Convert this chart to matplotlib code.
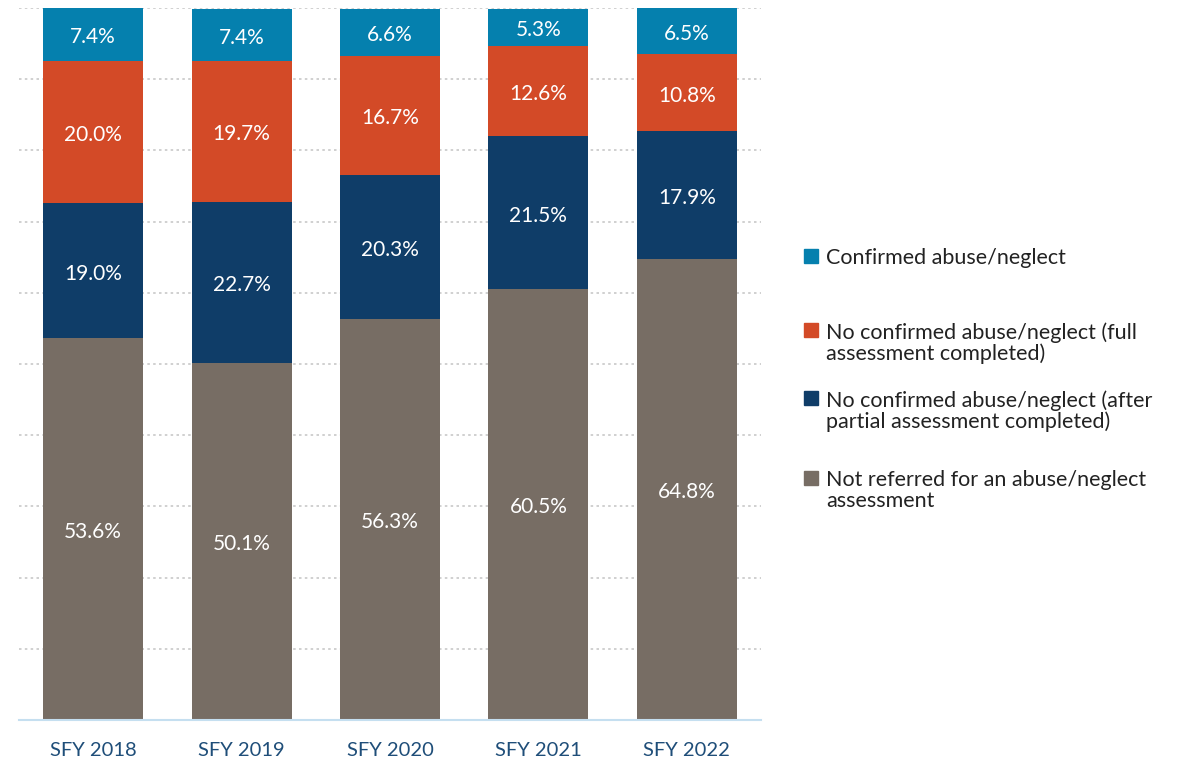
import matplotlib.pyplot as plt
from matplotlib.patches import Rectangle
import numpy as np

plt.rcParams['font.family'] = ['Lato', 'DejaVu Sans']

years = ['SFY 2018', 'SFY 2019', 'SFY 2020', 'SFY 2021', 'SFY 2022']
not_referred = [53.6, 50.1, 56.3, 60.5, 64.8]
partial = [19.0, 22.7, 20.3, 21.5, 17.9]
full = [20.0, 19.7, 16.7, 12.6, 10.8]
confirmed = [7.4, 7.4, 6.6, 5.3, 6.5]

labels = ['Not referred for an abuse/neglect\nassessment',
          'No confirmed abuse/neglect (after\npartial assessment completed)',
          'No confirmed abuse/neglect (full\nassessment completed)',
          'Confirmed abuse/neglect']
colors = ['#776D64', '#0F3D68', '#D34A27', '#0580AE']

fig = plt.figure(figsize=(11.91, 7.63), dpi=100)
ax = fig.add_axes([19/1191, 1 - 720/763, 742/1191, 712/763])

x = np.arange(len(years))
bottom = np.zeros(len(years))
for vals, col in zip([not_referred, partial, full, confirmed], colors):
    vals = np.array(vals)
    ax.bar(x, vals, 0.674, bottom=bottom, color=col, zorder=3)
    for xi, b, v in zip(x, bottom, vals):
        ax.text(xi, b + v / 2 - 0.4, f'{v:.1f}%', ha='center', va='center',
                color='white', fontsize=15, zorder=4)
    bottom += vals

ax.set_xlim(-0.5, len(years) - 0.5)
ax.set_ylim(0, 100)
ax.set_yticks(np.arange(10, 101, 10))
ax.yaxis.grid(True, linestyle=(0, (1.5, 2)), color='#C8C8C8', linewidth=1.2, zorder=0)
ax.tick_params(axis='y', left=False, labelleft=False)
ax.set_xticks(x)
ax.set_xticklabels(years, color='#1F4E79', fontsize=14.5)
ax.tick_params(axis='x', length=0, pad=16)
for s in ['top', 'right', 'left']:
    ax.spines[s].set_visible(False)
ax.spines['bottom'].set_color('#C5DFF0')
ax.spines['bottom'].set_linewidth(1.5)
ax.spines['bottom'].set_zorder(5)

# legend drawn by hand (top entry first)
leg_y = [256, 330, 398, 478]
for lab, col, yy in zip(labels[::-1], colors[::-1], leg_y):
    fig.patches.append(Rectangle((804/1191, 1 - (yy + 7)/763), 14/1191, 14/763,
                                 transform=fig.transFigure, color=col))
    fig.text(826/1191, 1 - (yy - 8)/763, lab, ha='left', va='top',
             fontsize=15.5, color='#222222', linespacing=1.05)

fig.savefig('out.png', dpi=100)
